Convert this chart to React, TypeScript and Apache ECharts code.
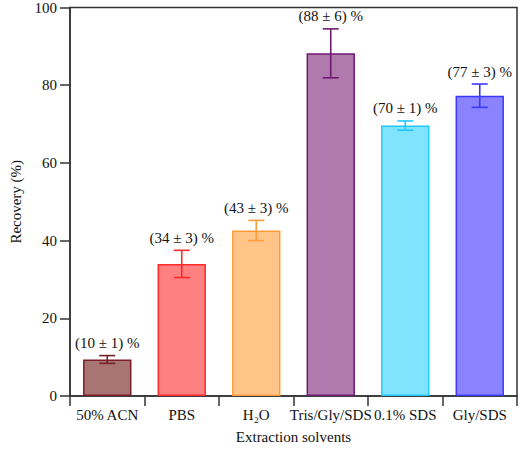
import React, { useEffect, useRef } from "react";
import * as echarts from "echarts";

const categories = ["50% ACN", "PBS", "H₂O", "Tris/Gly/SDS", "0.1% SDS", "Gly/SDS"];
const values = [9.4, 34.0, 42.6, 88.2, 69.6, 77.3];
const errors = [1.0, 3.5, 2.6, 6.3, 1.2, 3.0];
const barLabels = ["(10 ± 1) %", "(34 ± 3) %", "(43 ± 3) %", "(88 ± 6) %", "(70 ± 1) %", "(77 ± 3) %"];
const fillColors = ["#a87474", "#ff8080", "#ffc488", "#b07aae", "#80e4ff", "#8a82ff"];
const strokeColors = ["#7a1e26", "#ff2a2a", "#ff9c3a", "#701a70", "#22c8ff", "#3a3aff"];
const yTicks = { min: 0, max: 100, interval: 20 };

const FONT = "Liberation Serif";

export default function App() {
  const ref = useRef<HTMLDivElement>(null);
  useEffect(() => {
    if (!ref.current) return;
    const chart = echarts.init(ref.current, null, { renderer: "svg" });
    const option = {
      animation: false,
      textStyle: { fontFamily: FONT },
      grid: { left: 63, right: 3, top: 5, bottom: 48, show: true, borderColor: "#333", borderWidth: 1.5 },
      xAxis: {
        type: "category",
        data: categories,
        name: "Extraction solvents",
        nameLocation: "middle",
        nameGap: 33,
        nameTextStyle: { fontFamily: FONT, fontSize: 15, color: "#111" },
        axisLine: { lineStyle: { color: "#333", width: 1.5 } },
        axisTick: { show: true, length: 10, interval: 0, alignWithLabel: false, lineStyle: { color: "#333", width: 1.5 } },
        axisLabel: { fontFamily: FONT, fontSize: 15, color: "#111", margin: 11, interval: 0 },
        splitLine: { show: false },
      },
      yAxis: {
        type: "value",
        min: yTicks.min,
        max: yTicks.max,
        interval: yTicks.interval,
        name: "Recovery (%)",
        nameLocation: "middle",
        nameGap: 47,
        nameTextStyle: { fontFamily: FONT, fontSize: 15, color: "#111" },
        axisLine: { show: true, lineStyle: { color: "#333", width: 1.5 } },
        axisTick: { show: true, length: 10, lineStyle: { color: "#333", width: 1.5 } },
        axisLabel: { fontFamily: FONT, fontSize: 15, color: "#111", margin: 13 },
        splitLine: { show: false },
      },
      series: [
        {
          type: "bar",
          barWidth: "65%",
          data: values.map((v, i) => ({
            value: v,
            itemStyle: { color: fillColors[i], borderColor: strokeColors[i], borderWidth: 1.5 },
          })),
        },
        {
          type: "custom",
          z: 10,
          data: values.map((v, i) => [i, v, errors[i]]),
          renderItem: (params: any, api: any) => {
            const i = params.dataIndex;
            const idx = api.value(0);
            const v = api.value(1);
            const e = api.value(2);
            const top = api.coord([idx, v + e]);
            const bot = api.coord([idx, v - e]);
            const hw = 8;
            const style = { stroke: strokeColors[i], lineWidth: 1.6 };
            return {
              type: "group",
              children: [
                { type: "line", shape: { x1: top[0], y1: top[1], x2: bot[0], y2: bot[1] }, style },
                { type: "line", shape: { x1: top[0] - hw, y1: top[1], x2: top[0] + hw, y2: top[1] }, style },
                { type: "line", shape: { x1: bot[0] - hw, y1: bot[1], x2: bot[0] + hw, y2: bot[1] }, style },
                {
                  type: "text",
                  x: top[0],
                  y: top[1] - 5,
                  style: {
                    text: barLabels[i],
                    fill: "#111",
                    font: `15px "${FONT}"`,
                    align: "center",
                    verticalAlign: "bottom",
                  },
                },
              ],
            };
          },
        },
      ],
    };
    chart.setOption(option as any);
    return () => chart.dispose();
  }, []);
  return <div ref={ref} style={{ position: "absolute", left: 0, top: 0, width: 520, height: 449 }} />;
}
